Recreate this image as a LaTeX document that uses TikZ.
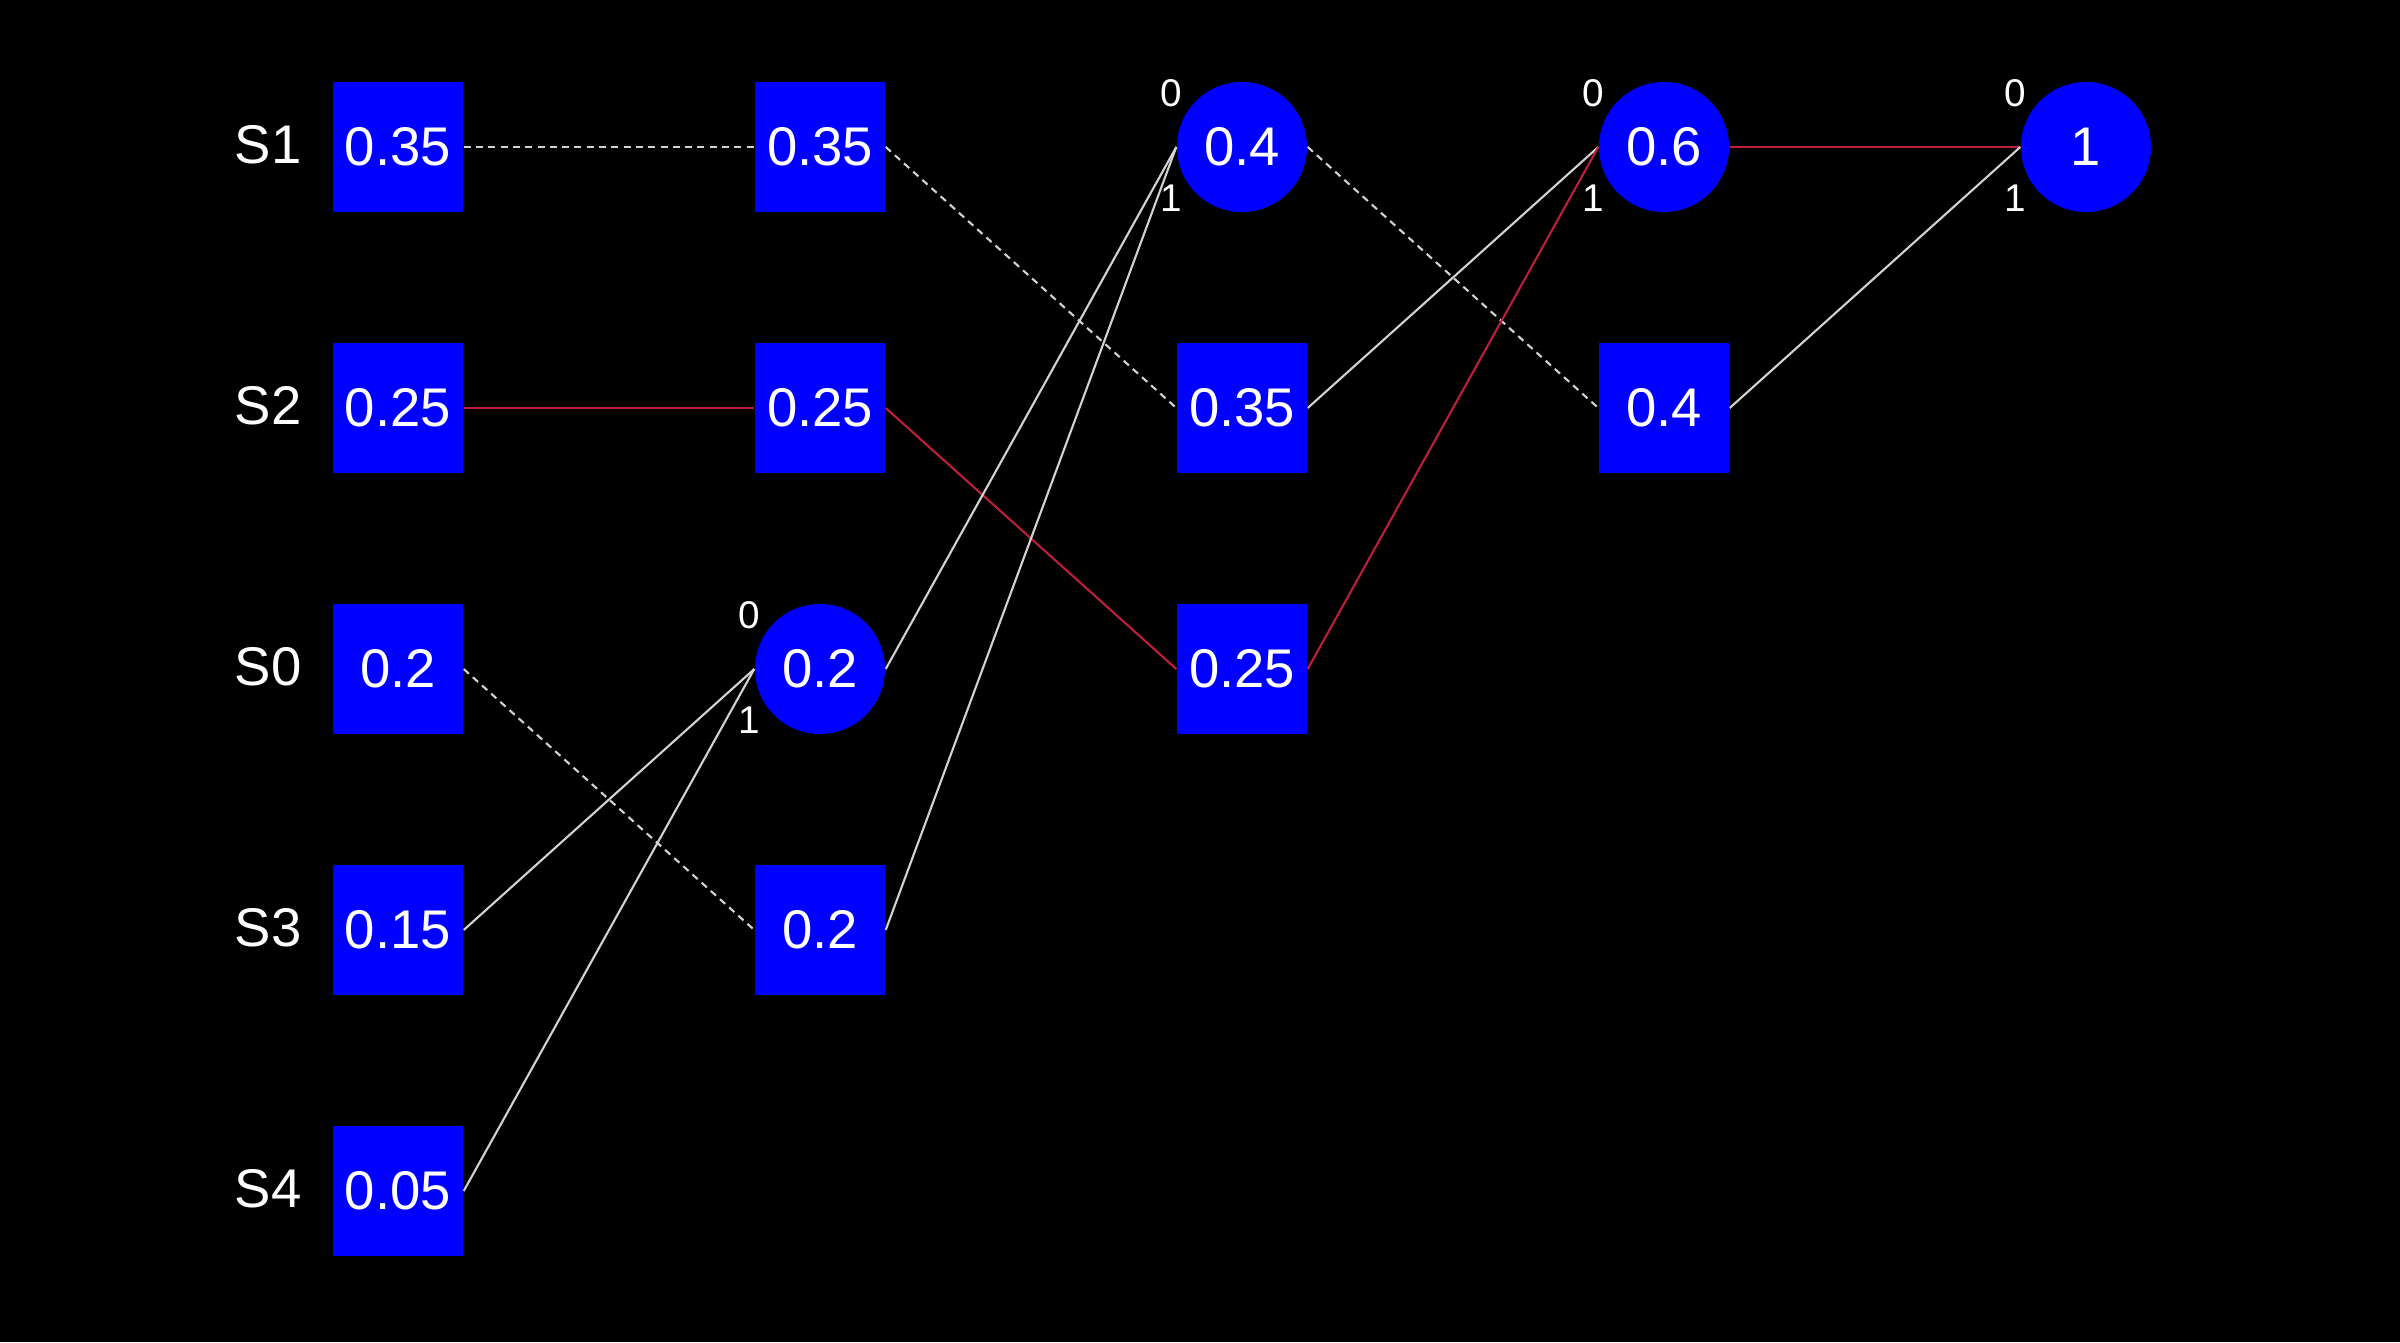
\documentclass[tikz,border=0pt]{standalone}
\usepackage{fontspec}
\setmainfont{Liberation Sans}
\definecolor{nodeblue}{RGB}{0,0,255}
\definecolor{pathred}{RGB}{190,30,60}
\definecolor{linegray}{RGB}{210,210,210}

\begin{document}
\begin{tikzpicture}[
  sq/.style={fill=nodeblue,minimum size=1.3cm,inner sep=0pt,text=white,font=\fontsize{15.5}{18}\selectfont},
  rnd/.style={sq,circle},
  lbl/.style={text=white,font=\fontsize{15.5}{18}\selectfont},
  bit/.style={text=white,inner sep=0pt,font=\fontsize{11}{13}\selectfont},
  edge/.style={draw=linegray,line width=0.6pt},
  skip/.style={draw=linegray,line width=0.6pt,dash pattern=on 2pt off 1.5pt},
  best/.style={draw=pathred,line width=0.6pt}
]

\fill[black] (0,0) rectangle (24,13.42);
\useasboundingbox (0,0) rectangle (24,13.42);

%col1
\node[lbl] (s1) at (2.68,11.97) {S1};
\node[lbl] (s2) at (2.68,9.36) {S2};
\node[lbl] (s0) at (2.68,6.75) {S0};
\node[lbl] (s3) at (2.68,4.14) {S3};
\node[lbl] (s4) at (2.68,1.53) {S4};
\node[sq] (a1) at (3.98,11.95) {0.35};
\node[sq] (a2) at (3.98,9.34) {0.25};
\node[sq] (a3) at (3.98,6.73) {0.2};
\node[sq] (a4) at (3.98,4.12) {0.15};
\node[sq] (a5) at (3.98,1.51) {0.05};

%col2
\node[sq] (b1) at (8.2,11.95) {0.35};
\node[sq] (b2) at (8.2,9.34) {0.25};
\node[rnd] (b3) at (8.2,6.73) {0.2};
\node[sq] (b4) at (8.2,4.12) {0.2};

%col3
\node[rnd] (c1) at (12.42,11.95) {0.4};
\node[sq] (c2) at (12.42,9.34) {0.35};
\node[sq] (c3) at (12.42,6.73) {0.25};

%col4
\node[rnd] (d1) at (16.64,11.95) {0.6};
\node[sq] (d2) at (16.64,9.34) {0.4};

%col5
\node[rnd] (e1) at (20.86,11.95) {1};

%bits
\node[bit] (b3z) at ([shift={(-0.71,0.54)}]b3.center) {0};
\node[bit] (b3o) at ([shift={(-0.71,-0.51)}]b3.center) {1};
\node[bit] (c1z) at ([shift={(-0.71,0.54)}]c1.center) {0};
\node[bit] (c1o) at ([shift={(-0.71,-0.51)}]c1.center) {1};
\node[bit] (d1z) at ([shift={(-0.71,0.54)}]d1.center) {0};
\node[bit] (d1o) at ([shift={(-0.71,-0.51)}]d1.center) {1};
\node[bit] (e1z) at ([shift={(-0.71,0.54)}]e1.center) {0};
\node[bit] (e1o) at ([shift={(-0.71,-0.51)}]e1.center) {1};

%edges
\path[skip] (a1.east) -- (b1.west);
\path[best] (a2.east) -- (b2.west);
\path[skip] (a3.east) -- (b4.west);
\path[edge] (a4.east) -- (b3.west);
\path[edge] (a5.east) -- (b3.west);

\path[skip] (b1.east) -- (c2.west);
\path[best] (b2.east) -- (c3.west);
\path[edge] (b3.east) -- (c1.west);
\path[edge] (b4.east) -- (c1.west);

\path[skip] (c1.east) -- (d2.west);
\path[edge] (c2.east) -- (d1.west);
\path[best] (c3.east) -- (d1.west);

\path[best] (d1.east) -- (e1.west);
\path[edge] (d2.east) -- (e1.west);

\end{tikzpicture}
\end{document}
